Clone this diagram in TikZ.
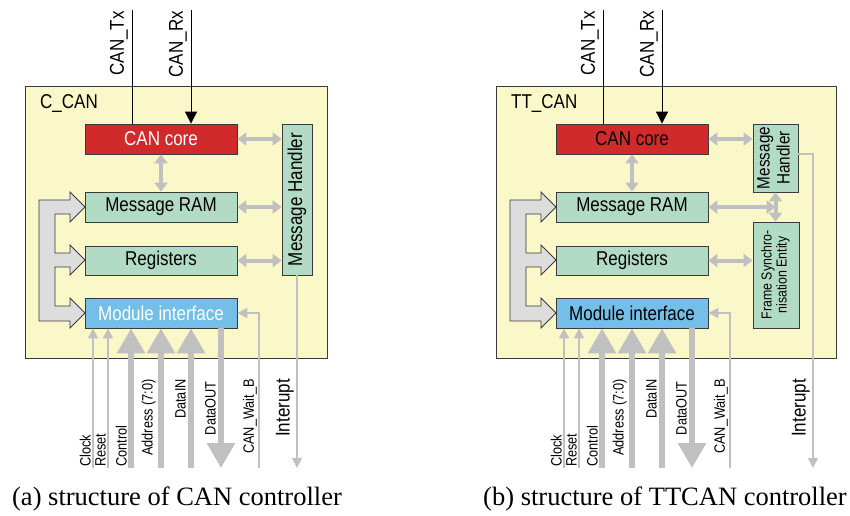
\documentclass[tikz,border=0pt]{standalone}
\usepackage{fontspec}
\usepackage{graphicx}
\setmainfont{Liberation Serif}
\newfontfamily\narrowsans[FakeStretch=0.85]{Liberation Sans}
\usetikzlibrary{arrows.meta}
\definecolor{chipyellow}{HTML}{FAF7C8}
\definecolor{corered}{HTML}{D12A2A}
\definecolor{mint}{HTML}{B2DBC6}
\definecolor{ifblue}{HTML}{74BFE8}
\definecolor{lgrey}{HTML}{C0C0C0}
\definecolor{busgrey}{HTML}{DDDDDD}
\definecolor{edge}{HTML}{3A3A3A}
\begin{document}
\begin{tikzpicture}[
        x=1pt, y=-1pt,
        box/.style={draw=edge, line width=.8pt, inner sep=0pt, font=\narrowsans\fontsize{20}{22}\selectfont},
        lbl/.style={rotate=90, inner sep=1pt, font=\narrowsans\fontsize{15}{17}\selectfont},
        biglbl/.style={rotate=90, inner sep=1pt, font=\narrowsans\fontsize{20}{22}\selectfont},
        link/.style={{Triangle[length=9pt,width=13pt]}-{Triangle[length=9pt,width=13pt]}, draw=lgrey, line width=4pt},
        sig/.style={-{Triangle[length=10pt,width=10pt]}, draw=lgrey, line width=1.3pt},
        bus/.style={-{Triangle[length=25pt,width=27pt]}, draw=lgrey, line width=6pt},
        wire/.style={draw=black, line width=.8pt},
        ]
        \useasboundingbox (0,0) rectangle (850,515);
        % common part of both controllers
        \foreach \p/\dx/\w/\tc/\chip in {a/0/302/white/C\_CAN, b/471/340/black/TT\_CAN}{
        \begin{scope}[xshift=\dx pt]
        \node[box, fill=chipyellow, line width=1pt, minimum width=\w pt, minimum height=272pt, anchor=north west] (\p-chip) at (25,86) {};
        \node[anchor=base west, inner sep=0pt, font=\narrowsans\fontsize{20}{22}\selectfont] (\p-name) at (40,108) {\chip};
        \node[box, fill=corered, text=\tc, minimum width=152pt, minimum height=30pt] (\p-core) at (161,139) {CAN core};
        \node[box, fill=mint, minimum width=152pt, minimum height=30pt] (\p-ram) at (161,207) {Message RAM};
        \node[box, fill=mint, minimum width=152pt, minimum height=29pt] (\p-reg) at (161,260.5) {Registers};
        \node[box, fill=ifblue, text=\tc, minimum width=152pt, minimum height=30pt] (\p-mod) at (161,313) {Module interface};
        % internal bus
        \draw[draw=edge, fill=busgrey, line width=.8pt] (39,321) -- (39,200) -- (70,200) -- (70,192) -- (85,207) -- (70,222) -- (70,214)
          -- (55,214) -- (55,253) -- (70,253) -- (70,245) -- (85,260) -- (70,275) -- (70,267)
          -- (55,267) -- (55,306) -- (70,306) -- (70,298) -- (85,313) -- (70,328) -- (70,321) -- cycle;
        \draw[link] (\p-core.south) -- (\p-ram.north);
        % CAN bus
        \coordinate (\p-tx) at (132,10);
        \coordinate (\p-rx) at (191,10);
        \draw[wire] (\p-tx) -- (\p-tx |- \p-core.north);
        \draw[wire, -{Triangle[length=12pt,width=12pt]}] (\p-rx) -- (\p-rx |- \p-core.north);
        \node[biglbl, anchor=south east] (\p-txlbl) at ([xshift=-3pt]\p-tx) {CAN\_Tx};
        \node[biglbl, anchor=south east] (\p-rxlbl) at ([xshift=-3pt]\p-rx) {CAN\_Rx};
        % host side
        \foreach \q/\x/\s in {clk/93/Clock, rst/108/Reset}{
          \coordinate (\p-\q) at (\x,468);
          \draw[sig] (\p-\q) -- (\p-\q |- \p-mod.south);
          \node[lbl, anchor=south west] (\p-\q lbl) at ([xshift=-1pt]\p-\q) {\s};
        }
        \coordinate (\p-ctl) at (131,468);
        \draw[bus] (\p-ctl) -- (\p-ctl |- \p-mod.south);
        \node[lbl, anchor=south west] (\p-ctllbl) at ([xshift=-3pt]\p-ctl) {Control};
        \foreach \q/\x/\s in {adr/161/Address (7:0), din/191/DataIN}{
          \coordinate (\p-\q) at (\x,468);
          \draw[bus] (\p-\q) -- (\p-\q |- \p-mod.south);
          \node[lbl, anchor=south east] (\p-\q lbl) at (\x-4,378) {\s};
        }
        \coordinate (\p-dout) at (221,468);
        \draw[bus] (\p-dout |- \p-mod.south) -- (\p-dout);
        \node[lbl, anchor=south east] (\p-doutlbl) at (217,380) {DataOUT};
        \coordinate (\p-wait) at (259,468);
        \draw[sig] (\p-wait) |- (\p-mod.east);
        \node[lbl, anchor=south east] (\p-waitlbl) at (258,378) {CAN\_Wait\_B};
        \end{scope}
        }
        % C_CAN
        \node[box, fill=mint, minimum width=30pt, minimum height=151pt] (a-mh) at (297,199.5) {\rotatebox{90}{Message Handler}};
        \draw[link] (a-core.east) -- (a-core.east -| a-mh.west);
        \draw[link] (a-ram.east) -- (a-ram.east -| a-mh.west);
        \draw[link] (a-reg.east) -- (a-reg.east -| a-mh.west);
        \coordinate (a-int) at (297,468);
        \draw[sig] (a-mh.south) -- (a-int);
        \node[biglbl, anchor=south east] (a-intlbl) at (295,378) {Interupt};
        % TT_CAN
        \node[box, fill=mint, minimum width=45pt, minimum height=68pt, font=\narrowsans\fontsize{18}{20}\selectfont] (b-mh) at (775.5,158)
          {\rotatebox{90}{\begin{tabular}{@{}c@{}}Message\\Handler\end{tabular}}};
        \node[box, fill=mint, minimum width=46pt, minimum height=106pt, font=\narrowsans\fontsize{14.5}{15}\selectfont] (b-fse) at (776,275)
          {\rotatebox{90}{\begin{tabular}{@{}c@{}}Frame Synchro-\\nisation Entity\end{tabular}}};
        \draw[link] (b-core.east) -- (b-core.east -| b-mh.west);
        \draw[link] (b-ram.east) -- (b-ram.east -| b-mh.south);
        \draw[link] (b-mh.south) -- (b-mh.south |- b-fse.north);
        \draw[link] (b-reg.east) -- (b-reg.east -| b-fse.west);
        \coordinate (b-int) at (813,468);
        \draw[sig] ([yshift=4pt]b-mh.east) -| (b-int);
        \node[biglbl, anchor=south east] (b-intlbl) at (811,378) {Interupt};
        % captions
        \node[anchor=base, inner sep=0pt, font=\fontsize{26.5}{30}\selectfont] (capa) at (177,505) {(a) structure of CAN controller};
        \node[anchor=base, inner sep=0pt, font=\fontsize{26.5}{30}\selectfont] (capb) at (665,505) {(b) structure of TTCAN controller};
\end{tikzpicture}
\end{document}
